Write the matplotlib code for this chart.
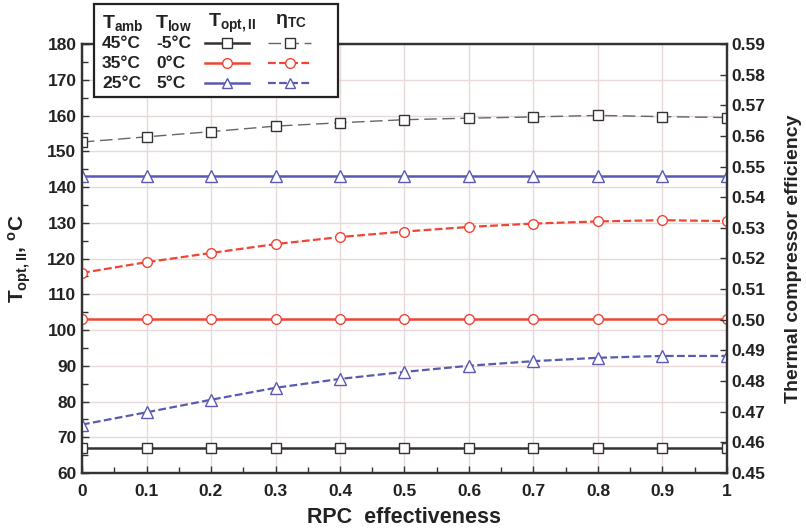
import numpy as np
import matplotlib
matplotlib.use('Agg')
from matplotlib import pyplot as plt
from matplotlib.lines import Line2D
from matplotlib.patches import Rectangle
from matplotlib.ticker import MultipleLocator

plt.rcParams['font.family'] = ['Liberation Sans', 'DejaVu Sans']
plt.rcParams['font.weight'] = 'bold'
plt.rcParams['mathtext.fontset'] = 'custom'
plt.rcParams['mathtext.rm'] = 'Liberation Sans:bold'
plt.rcParams['mathtext.it'] = 'Liberation Sans:bold'
plt.rcParams['mathtext.bf'] = 'Liberation Sans:bold'

# datos
rpc = [0, 0.1, 0.2, 0.3, 0.4, 0.5, 0.6, 0.7, 0.8, 0.9, 1.0]
casos_amb = ['45°C', '35°C', '25°C']
casos_low = ['-5°C', '0°C', '5°C']

topt_45 = [67, 67, 67, 67, 67, 67, 67, 67, 67, 67, 67]
topt_35 = [103, 103, 103, 103, 103, 103, 103, 103, 103, 103, 103]
topt_25 = [143, 143, 143, 143, 143, 143, 143, 143, 143, 143, 143]

eta_45 = [0.5580, 0.5597, 0.5614, 0.5632, 0.5643, 0.5653, 0.5658, 0.5662, 0.5667, 0.5663, 0.5660]
eta_35 = [0.5153, 0.5188, 0.5218, 0.5247, 0.5270, 0.5288, 0.5303, 0.5314, 0.5321, 0.5325, 0.5322]
eta_25 = [0.4658, 0.4698, 0.4739, 0.4778, 0.4807, 0.4830, 0.4850, 0.4865, 0.4876, 0.4882, 0.4882]

negro = '#333333'
gris = '#666666'
rojo = '#f04535'
azul = '#5a5ab0'

W, H = 806, 531
fig = plt.figure(figsize=(W/100, H/100), dpi=100)
ax = fig.add_axes([82/W, 1-473/H, 645/W, 429/H])
ax2 = ax.twinx()

ms = 7
# T_opt,II (eje izquierdo)
ax.plot(rpc, topt_45, '-', color=negro, lw=1.8, marker='s', ms=ms, mfc='white', mec=negro, mew=1.0, zorder=3)
ax.plot(rpc, topt_35, '-', color=rojo, lw=1.8, marker='o', ms=ms, mfc='white', mec=rojo, mew=1.0, zorder=3)
ax.plot(rpc, topt_25, '-', color=azul, lw=1.8, marker='^', ms=ms+1, mfc='white', mec=azul, mew=1.0, zorder=3)

# eta_TC (eje derecho)
ax2.plot(rpc, eta_45, color=gris, lw=1.0, ls=(0, (9, 4)), marker='s', ms=ms, mfc='white', mec=negro, mew=1.0)
ax2.plot(rpc, eta_35, color=rojo, lw=1.6, ls=(0, (3.5, 1.5)), marker='o', ms=ms, mfc='white', mec=rojo, mew=1.0)
ax2.plot(rpc, eta_25, color=azul, lw=1.6, ls=(0, (3.5, 1.5)), marker='^', ms=ms+1, mfc='white', mec=azul, mew=1.0)

ax.set_xlim(0, 1)
ax.set_ylim(60, 180)
ax2.set_ylim(0.45, 0.59)

ax.xaxis.set_minor_locator(MultipleLocator(0.05))
ax.yaxis.set_major_locator(MultipleLocator(10))
ax.yaxis.set_minor_locator(MultipleLocator(5))
ax2.yaxis.set_major_locator(MultipleLocator(0.01))

ax.set_xticks(rpc)
ax.set_xticklabels(['0', '0.1', '0.2', '0.3', '0.4', '0.5', '0.6', '0.7', '0.8', '0.9', '1'])
ax2.set_yticklabels(['%.2f' % v for v in ax2.get_yticks()])

ax.grid(True, which='major', color='#e8d8d8', lw=1.0)
ax.set_axisbelow(True)

for a in (ax, ax2):
    for s in a.spines.values():
        s.set_color(negro)
        s.set_linewidth(1.6)
    a.tick_params(which='both', direction='in', colors=negro, labelcolor='#222222', labelsize=12.5)
    a.tick_params(which='major', length=5, width=1.0)
    a.tick_params(which='minor', length=4, width=1.0)
ax.tick_params(axis='x', pad=8)
ax.tick_params(axis='y', pad=4)
ax2.tick_params(axis='y', pad=3)

ax.set_xlabel('RPC  effectiveness', fontsize=15.5, fontweight='bold', color='#222222', labelpad=6)
ax.set_ylabel('T$_{opt,II}$, $^{o}$C', fontsize=15, fontweight='bold', color='#222222', labelpad=10)
ax2.set_ylabel('Thermal compressor efficiency', fontsize=14, fontweight='bold', color='#222222', labelpad=14)

# leyenda tipo tabla
def fx(px):
    return px / W

def fy(py):
    return 1 - py / H

fig.add_artist(Rectangle((fx(94), fy(97)), fx(338) - fx(94), fy(4) - fy(97),
                         transform=fig.transFigure, facecolor='white', edgecolor='#222222', lw=1.6, zorder=10))

tk = dict(transform=fig.transFigure, color='#222222', zorder=11, va='center')
fig.text(fx(102), fy(23), 'T$_{amb}$', fontsize=14, **tk)
fig.text(fx(155), fy(23), 'T$_{low}$', fontsize=14, **tk)
fig.text(fx(208), fy(23), 'T$_{opt,II}$', fontsize=14, **tk)
fig.text(fx(275), fy(21), 'η$_{TC}$', fontsize=14, **tk)

filas_y = [43, 63, 83]
estilos = [
    (negro, 's', gris, (0, (9, 4)), 1.0),
    (rojo, 'o', rojo, (0, (3.5, 1.5)), 1.6),
    (azul, '^', azul, (0, (3.5, 1.5)), 1.6),
]
for i in range(3):
    y = filas_y[i]
    c, m, c2, ls2, lw2 = estilos[i]
    fig.text(fx(102), fy(y), casos_amb[i], fontsize=12.5, **tk)
    fig.text(fx(156), fy(y), casos_low[i], fontsize=12.5, **tk)
    fig.add_artist(Line2D([fx(205), fx(249)], [fy(y), fy(y)], transform=fig.transFigure,
                          color=c, lw=1.8, zorder=11))
    fig.add_artist(Line2D([fx(227)], [fy(y)], transform=fig.transFigure, marker=m, ms=ms,
                          mfc='white', mec=c, mew=1.0, zorder=12))
    fig.add_artist(Line2D([fx(268), fx(311)], [fy(y), fy(y)], transform=fig.transFigure,
                          color=c2, lw=lw2, ls=ls2, zorder=11))
    fig.add_artist(Line2D([fx(290)], [fy(y)], transform=fig.transFigure, marker=m, ms=ms,
                          mfc='white', mec=c, mew=1.0, zorder=12))

fig.savefig('out.png', dpi=100)
